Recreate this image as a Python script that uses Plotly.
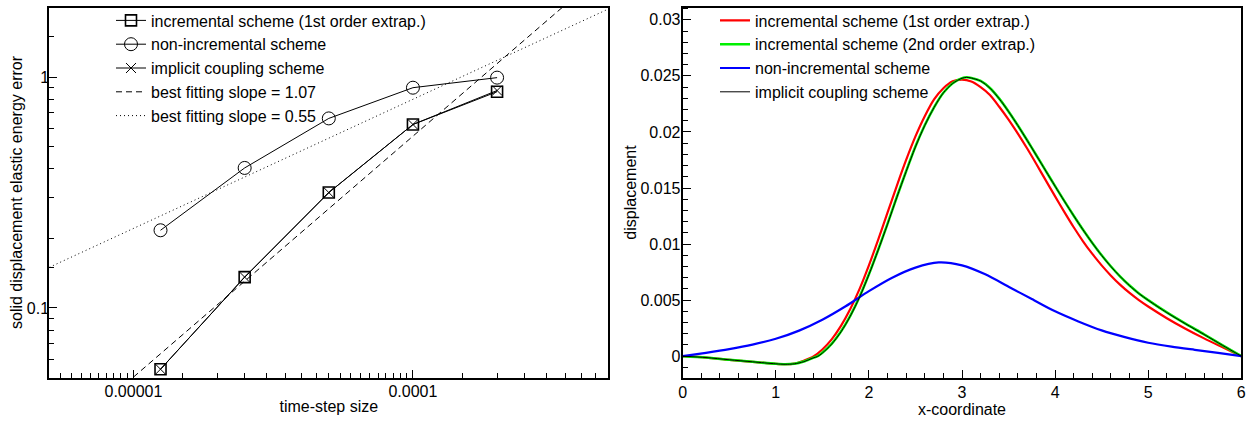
import math
import plotly.graph_objects as go

# ---------------- Left panel data (log-log convergence) ----------------
dt = [1.25e-5, 2.5e-5, 5e-5, 1e-4, 2e-4]
err_incremental_1st = [0.0543, 0.136, 0.316, 0.623, 0.864]
err_non_incremental = [0.217, 0.404, 0.662, 0.899, 0.994]
err_implicit = [0.0543, 0.136, 0.316, 0.623, 0.874]
fit_107_x = [1e-5, 3.42e-4]
fit_107_y = [0.0502, 2.0]
fit_055_x = [5e-6, 5e-4]
fit_055_y = [0.150, 1.97]
left_xtick_vals = [1e-5, 1e-4]
left_xtick_text = ["0.00001", "0.0001"]
left_ytick_vals = [0.1, 1]
left_ytick_text = ["0.1", "1"]
left_xminor = [5.5e-6, 6e-6, 6.5e-6, 7e-6, 7.5e-6, 8e-6, 8.5e-6, 9e-6, 9.5e-6,
               1.5e-5, 2e-5, 2.5e-5, 3e-5, 3.5e-5, 4e-5, 4.5e-5, 5e-5, 5.5e-5, 6e-5,
               6.5e-5, 7e-5, 7.5e-5, 8e-5, 8.5e-5, 9e-5, 9.5e-5,
               1.5e-4, 2e-4, 2.5e-4, 3e-4, 3.5e-4, 4e-4, 4.5e-4]
left_yminor = [0.06, 0.07, 0.08, 0.09, 0.15, 0.2, 0.3, 0.4, 0.5, 0.6, 0.7, 0.8, 0.9, 1.5]

# ---------------- Right panel data (displacement profiles) ----------------
x_inc1 = [0, 0.25, 0.5, 0.75, 1.0, 1.1, 1.2, 1.3, 1.4, 1.5, 1.6, 1.7, 1.8, 1.9, 2.0, 2.1,
          2.2, 2.3, 2.4, 2.5, 2.6, 2.7, 2.8, 2.9, 3.0, 3.1, 3.2, 3.3, 3.4, 3.5, 3.6, 3.7,
          3.8, 3.9, 4.0, 4.1, 4.2, 4.3, 4.4, 4.5, 4.6, 4.7, 4.8, 4.9, 5.0, 5.2, 5.4, 5.6,
          5.8, 6.0]
u_inc1 = [0.0, -0.00012, -0.00033, -0.0005, -0.00068, -0.00072, -0.00066, -0.0004,
          -0.00005, 0.0006, 0.0015, 0.0027, 0.0042, 0.0060, 0.0081, 0.0104, 0.0128, 0.0152,
          0.0175, 0.0196, 0.0214, 0.0229, 0.0239, 0.02452, 0.02467, 0.0245, 0.0240, 0.0233,
          0.02225, 0.0211, 0.01985, 0.01852, 0.01712, 0.01568, 0.01425, 0.01285, 0.0115,
          0.01025, 0.00912, 0.0081, 0.00718, 0.00636, 0.00564, 0.0050, 0.00443, 0.00339,
          0.00245, 0.00159, 0.00079, 0.0]

x_inc2 = [0, 0.25, 0.5, 0.75, 1.0, 1.1, 1.2, 1.3, 1.4, 1.45, 1.5, 1.6, 1.7, 1.8, 1.9, 2.0,
          2.1, 2.2, 2.3, 2.4, 2.5, 2.6, 2.7, 2.8, 2.9, 3.0, 3.05, 3.1, 3.2, 3.3, 3.4, 3.5,
          3.6, 3.7, 3.8, 3.9, 4.0, 4.1, 4.2, 4.3, 4.4, 4.5, 4.6, 4.7, 4.8, 4.9, 5.0, 5.2,
          5.4, 5.6, 5.8, 6.0]
u_inc2 = [0.0, -0.00012, -0.00032, -0.0005, -0.00068, -0.00072, -0.00068, -0.00048,
          -0.00015, 0.0, 0.0003, 0.0011, 0.0022, 0.0036, 0.0053, 0.0073, 0.0095, 0.0118,
          0.0142, 0.0165, 0.0187, 0.0206, 0.0222, 0.0235, 0.02435, 0.0248, 0.02488, 0.02482,
          0.02455, 0.02392, 0.02297, 0.02183, 0.02058, 0.01926, 0.0179, 0.01653, 0.01517,
          0.01383, 0.01253, 0.01128, 0.0101, 0.0090, 0.0080, 0.0071, 0.0063, 0.0056,
          0.0050, 0.0039, 0.0029, 0.00195, 0.00097, 0.0]

x_impl = [0, 0.25, 0.5, 0.75, 1.0, 1.1, 1.2, 1.3, 1.4, 1.45, 1.5, 1.6, 1.7, 1.8, 1.9, 2.0,
          2.1, 2.2, 2.3, 2.4, 2.5, 2.6, 2.7, 2.8, 2.9, 3.0, 3.05, 3.1, 3.2, 3.3, 3.4, 3.5,
          3.6, 3.7, 3.8, 3.9, 4.0, 4.1, 4.2, 4.3, 4.4, 4.5, 4.6, 4.7, 4.8, 4.9, 5.0, 5.2,
          5.4, 5.6, 5.8, 6.0]
u_impl = [0.0, -0.00012, -0.00032, -0.0005, -0.00068, -0.00072, -0.00068, -0.00049,
          -0.00016, -0.00002, 0.00028, 0.00108, 0.00217, 0.00357, 0.00527, 0.00727, 0.00947,
          0.01177, 0.01417, 0.01647, 0.01867, 0.02058, 0.02219, 0.02349, 0.02433, 0.02479,
          0.02487, 0.02481, 0.02454, 0.02391, 0.02296, 0.02182, 0.02057, 0.01925, 0.01789,
          0.01652, 0.01516, 0.01382, 0.01252, 0.01127, 0.01009, 0.00899, 0.00799, 0.00709,
          0.00629, 0.00559, 0.00499, 0.00389, 0.00289, 0.00194, 0.00096, 0.0]

x_noninc = [0, 0.25, 0.5, 0.75, 1.0, 1.25, 1.5, 1.75, 2.0, 2.25, 2.5, 2.75, 3.0, 3.25, 3.5,
            3.75, 4.0, 4.25, 4.5, 4.75, 5.0, 5.25, 5.5, 5.75, 6.0]
u_noninc = [0.0, 0.0003, 0.00063, 0.00103, 0.00155, 0.00228, 0.00325, 0.00445, 0.0058,
            0.0070, 0.0079, 0.00836, 0.0081, 0.0073, 0.0062, 0.0051, 0.0040, 0.0031, 0.0023,
            0.0017, 0.0012, 0.00085, 0.00057, 0.0003, 0.0]

right_ytick_vals = [0, 0.005, 0.01, 0.015, 0.02, 0.025, 0.03]
right_ytick_text = ["0", "0.005", "0.01", "0.015", "0.02", "0.025", "0.03"]

W, H = 1256, 423
FONT = "Liberation Sans, Arial, Helvetica, sans-serif"

fig = go.Figure()

# left panel traces
fig.add_trace(go.Scatter(x=dt, y=err_incremental_1st, mode="lines+markers",
                         name="incremental scheme (1st order extrap.)",
                         line=dict(color="black", width=1),
                         marker=dict(symbol="square-open", size=11, color="black",
                                     line=dict(width=1.6, color="black")),
                         xaxis="x", yaxis="y", legend="legend"))
fig.add_trace(go.Scatter(x=dt, y=err_non_incremental, mode="lines+markers",
                         name="non-incremental scheme",
                         line=dict(color="black", width=1),
                         marker=dict(symbol="circle-open", size=13, color="black",
                                     line=dict(width=1, color="black")),
                         xaxis="x", yaxis="y", legend="legend"))
fig.add_trace(go.Scatter(x=dt, y=err_implicit, mode="lines+markers",
                         name="implicit coupling scheme",
                         line=dict(color="black", width=1),
                         marker=dict(symbol="x-thin-open", size=10, color="black",
                                     line=dict(width=1, color="black")),
                         xaxis="x", yaxis="y", legend="legend"))
fig.add_trace(go.Scatter(x=fit_107_x, y=fit_107_y, mode="lines",
                         name="best fitting slope = 1.07",
                         line=dict(color="black", width=1, dash="6px,4px"),
                         xaxis="x", yaxis="y", legend="legend"))
fig.add_trace(go.Scatter(x=fit_055_x, y=fit_055_y, mode="lines",
                         name="best fitting slope = 0.55",
                         line=dict(color="black", width=1, dash="1px,3px"),
                         xaxis="x", yaxis="y", legend="legend"))

# right panel traces
fig.add_trace(go.Scatter(x=x_inc1, y=u_inc1, mode="lines", line_shape="spline",
                         name="incremental scheme (1st order extrap.)",
                         line=dict(color="#ff0000", width=2.2, smoothing=0.8),
                         xaxis="x2", yaxis="y2", legend="legend2"))
fig.add_trace(go.Scatter(x=x_inc2, y=u_inc2, mode="lines", line_shape="spline",
                         name="incremental scheme (2nd order extrap.)",
                         line=dict(color="#00f000", width=2.6, smoothing=0.8),
                         xaxis="x2", yaxis="y2", legend="legend2"))
fig.add_trace(go.Scatter(x=x_noninc, y=u_noninc, mode="lines", line_shape="spline",
                         name="non-incremental scheme",
                         line=dict(color="#0000ff", width=2.2, smoothing=0.8),
                         xaxis="x2", yaxis="y2", legend="legend2"))
fig.add_trace(go.Scatter(x=x_impl, y=u_impl, mode="lines", line_shape="spline",
                         name="implicit coupling scheme",
                         line=dict(color="black", width=1, smoothing=0.8),
                         xaxis="x2", yaxis="y2", legend="legend2"))

ax_common = dict(showline=True, linecolor="black", linewidth=2, mirror=True,
                 showgrid=False, zeroline=False, ticks="inside", tickcolor="black",
                 tickwidth=1, ticklen=8, automargin=False,
                 tickfont=dict(size=16, color="black", family=FONT),
                 title_font=dict(size=16, color="black", family=FONT))

ydom = [1 - 377.5 / H, 1 - 7.5 / H]
fig.update_layout(
    width=W, height=H, margin=dict(l=0, r=0, t=0, b=0, pad=0),
    paper_bgcolor="white", plot_bgcolor="white",
    font=dict(family=FONT, size=16, color="black"),
    xaxis=dict(ax_common, type="log", domain=[49.3 / W, 608.3 / W],
               range=[math.log10(5e-6), math.log10(5e-4)],
               tickvals=left_xtick_vals, ticktext=left_xtick_text,
               ticklabelstandoff=-2,
               minor=dict(tickvals=left_xminor, ticks="inside", ticklen=5,
                          tickcolor="black", tickwidth=1, showgrid=False),
               title=dict(text="time-step size", standoff=2), anchor="y"),
    yaxis=dict(ax_common, type="log", domain=ydom,
               range=[math.log10(0.05), math.log10(2.0)],
               tickvals=left_ytick_vals, ticktext=left_ytick_text,
               ticklabelstandoff=-5,
               minor=dict(tickvals=left_yminor, ticks="inside", ticklen=5,
                          tickcolor="black", tickwidth=1, showgrid=False),
               title=dict(text="solid displacement elastic energy error", standoff=0),
               anchor="x"),
    xaxis2=dict(ax_common, domain=[682.7 / W, 1241.3 / W], range=[0, 6], dtick=1,
                ticklabelstandoff=-1,
                minor=dict(dtick=0.2, ticks="inside", ticklen=5, tickcolor="black",
                           tickwidth=1, showgrid=False),
                title=dict(text="x-coordinate", standoff=2), anchor="y2"),
    yaxis2=dict(ax_common, domain=ydom, range=[-0.0019, 0.0311],
                tickvals=right_ytick_vals, ticktext=right_ytick_text,
                ticklabelstandoff=-3,
                minor=dict(dtick=0.001, tick0=0, ticks="inside", ticklen=5,
                           tickcolor="black", tickwidth=1, showgrid=False),
                title=dict(text="displacement", standoff=0), anchor="x2"),
    legend=dict(x=111 / W, y=1 - 3.5 / H, xanchor="left", yanchor="top",
                bgcolor="rgba(0,0,0,0)", borderwidth=0,
                font=dict(size=16, family=FONT, color="black"), tracegroupgap=0),
    legend2=dict(x=715 / W, y=1 - 3.5 / H, xanchor="left", yanchor="top",
                 bgcolor="rgba(0,0,0,0)", borderwidth=0,
                 font=dict(size=16, family=FONT, color="black"), tracegroupgap=0),
    showlegend=True,
)

fig.write_html("out.html",
               config={"displayModeBar": False},
               post_script="document.body.style.margin='0';"
                           "document.body.style.overflow='hidden';")
